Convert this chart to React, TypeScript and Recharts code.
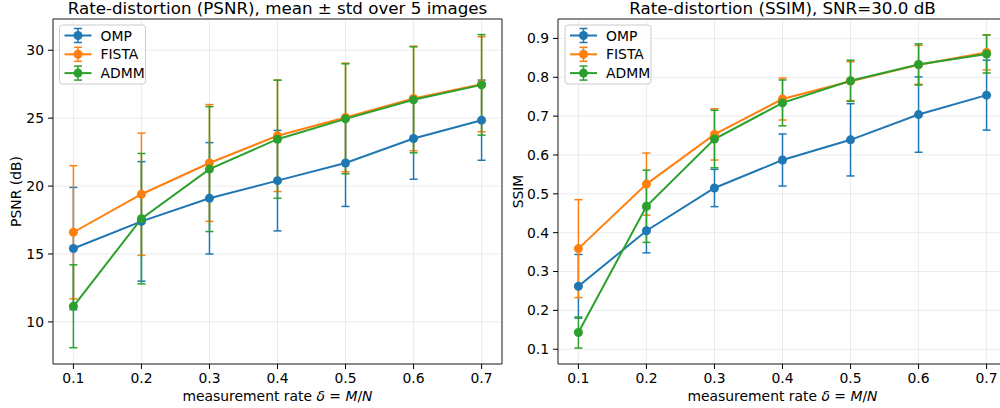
import React from 'react';
import {
  LineChart,
  Line,
  XAxis,
  YAxis,
  CartesianGrid,
  ErrorBar,
  ReferenceArea,
} from 'recharts';

const rates = [0.1, 0.2, 0.3, 0.4, 0.5, 0.6, 0.7];
const rateTicks = [0.1, 0.2, 0.3, 0.4, 0.5, 0.6, 0.7];

const psnrOmp = [15.4, 17.4, 19.1, 20.4, 21.7, 23.5, 24.85];
const psnrOmpStd = [4.5, 4.4, 4.1, 3.7, 3.2, 3.0, 2.95];
const psnrFista = [16.6, 19.4, 21.7, 23.7, 25.05, 26.45, 27.5];
const psnrFistaStd = [4.9, 4.5, 4.3, 4.1, 4.0, 3.85, 3.5];
const psnrAdmm = [11.15, 17.6, 21.25, 23.45, 24.95, 26.35, 27.45];
const psnrAdmmStd = [3.05, 4.8, 4.6, 4.35, 4.05, 3.9, 3.7];
const psnrTicks = [10, 15, 20, 25, 30];

const ssimOmp = [0.262, 0.405, 0.515, 0.587, 0.639, 0.704, 0.754];
const ssimOmpStd = [0.082, 0.057, 0.048, 0.067, 0.093, 0.097, 0.09];
const ssimFista = [0.359, 0.525, 0.653, 0.744, 0.79, 0.832, 0.864];
const ssimFistaStd = [0.126, 0.08, 0.066, 0.054, 0.05, 0.05, 0.045];
const ssimAdmm = [0.143, 0.468, 0.641, 0.734, 0.791, 0.833, 0.86];
const ssimAdmmStd = [0.04, 0.093, 0.074, 0.059, 0.053, 0.053, 0.049];
const ssimTicks = [0.1, 0.2, 0.3, 0.4, 0.5, 0.6, 0.7, 0.8, 0.9];

const methods = ['OMP', 'FISTA', 'ADMM'];
const colors = ['#1f77b4', '#ff7f0e', '#2ca02c'];

const FONT = '"DejaVu Sans", sans-serif';

const build = (a: number[], as: number[], b: number[], bs: number[], c: number[], cs: number[]) =>
  rates.map((r, i) => ({
    rate: r,
    OMP: a[i], OMPStd: as[i],
    FISTA: b[i], FISTAStd: bs[i],
    ADMM: c[i], ADMMStd: cs[i],
  }));

const psnrData = build(psnrOmp, psnrOmpStd, psnrFista, psnrFistaStd, psnrAdmm, psnrAdmmStd);
const ssimData = build(ssimOmp, ssimOmpStd, ssimFista, ssimFistaStd, ssimAdmm, ssimAdmmStd);

const tickStyle = { fontSize: 13.9, fill: '#000', fontFamily: FONT };

type PanelProps = {
  data: any[];
  yDomain: [number, number];
  yTicks: number[];
  yFmt: (v: number) => string;
};

const Panel: React.FC<PanelProps> = ({ data, yDomain, yTicks, yFmt }) => (
  <LineChart width={510} height={408} data={data} margin={{ top: 19, right: 8, bottom: 0, left: 0 }}>
    <CartesianGrid stroke="#b0b0b0" strokeOpacity={0.3} strokeWidth={0.8} />
    <XAxis
      dataKey="rate"
      type="number"
      domain={[0.07, 0.73]}
      ticks={rateTicks}
      tickFormatter={(v: number) => v.toFixed(1)}
      height={44}
      tickSize={5}
      tickMargin={4}
      tick={tickStyle}
      stroke="#000"
      axisLine={false}
      allowDataOverflow
    />
    <YAxis
      type="number"
      domain={yDomain}
      ticks={yTicks}
      tickFormatter={yFmt}
      width={53}
      tickSize={5}
      tickMargin={4}
      tick={tickStyle}
      stroke="#000"
      axisLine={false}
      allowDataOverflow
    />
    {methods.map((m, i) => (
      <Line
        key={m}
        dataKey={m}
        stroke={colors[i]}
        strokeWidth={2}
        dot={{ r: 4.5, fill: colors[i], stroke: colors[i], strokeWidth: 0 }}
        activeDot={false}
        isAnimationActive={false}
      >
        <ErrorBar
          dataKey={`${m}Std`}
          direction="y"
          width={4}
          stroke={colors[i]}
          strokeWidth={1.5}
          isAnimationActive={false}
        />
      </Line>
    ))}
    <ReferenceArea
      x1={0.07}
      x2={0.73}
      y1={yDomain[0]}
      y2={yDomain[1]}
      fill="none"
      stroke="#222"
      strokeWidth={1}
      fillOpacity={0}
    />
  </LineChart>
);

const LegendBox: React.FC<{ x: number; y: number }> = ({ x, y }) => (
  <g>
    <rect x={x} y={y} width={86} height={59} rx={3} fill="#fff" fillOpacity={0.8} stroke="#cccccc" strokeWidth={1} />
    {methods.map((m, i) => {
      const cy = y + 10.5 + i * 18.8;
      const c = colors[i];
      return (
        <g key={m}>
          <line x1={x + 5} x2={x + 32} y1={cy} y2={cy} stroke={c} strokeWidth={2} />
          <line x1={x + 18.5} x2={x + 18.5} y1={cy - 7} y2={cy + 7} stroke={c} strokeWidth={1.5} />
          <line x1={x + 14.5} x2={x + 22.5} y1={cy - 7} y2={cy - 7} stroke={c} strokeWidth={1.5} />
          <line x1={x + 14.5} x2={x + 22.5} y1={cy + 7} y2={cy + 7} stroke={c} strokeWidth={1.5} />
          <circle cx={x + 18.5} cy={cy} r={4.5} fill={c} />
          <text x={x + 41} y={cy + 5} fontSize={13.9} fontFamily={FONT} fill="#000">{m}</text>
        </g>
      );
    })}
  </g>
);

const XLabel: React.FC<{ cx: number }> = ({ cx }) => (
  <text x={cx} y={401} textAnchor="middle" fontSize={13.9} fontFamily={FONT} fill="#000">
    measurement rate <tspan fontStyle="italic">δ</tspan> = <tspan fontStyle="italic">M</tspan>/<tspan fontStyle="italic">N</tspan>
  </text>
);

const App: React.FC = () => (
  <div style={{ position: 'fixed', left: 0, top: 0, width: 1000, height: 408, overflow: 'hidden', background: '#fff' }}>
    <div style={{ position: 'absolute', left: 0, top: 0 }}>
      <Panel data={psnrData} yDomain={[6.9, 32.3]} yTicks={psnrTicks} yFmt={(v) => String(v)} />
    </div>
    <div style={{ position: 'absolute', left: 505, top: 0 }}>
      <Panel data={ssimData} yDomain={[0.062, 0.95]} yTicks={ssimTicks} yFmt={(v) => v.toFixed(1)} />
    </div>
    <svg width={1000} height={408} style={{ position: 'absolute', left: 0, top: 0, pointerEvents: 'none' }}>
      <text x={277.5} y={13.5} textAnchor="middle" fontSize={16.7} fontFamily={FONT} fill="#000">
        Rate-distortion (PSNR), mean ± std over 5 images
      </text>
      <text x={782.5} y={13.5} textAnchor="middle" fontSize={16.7} fontFamily={FONT} fill="#000">
        Rate-distortion (SSIM), SNR=30.0 dB
      </text>
      <XLabel cx={277.5} />
      <XLabel cx={782.5} />
      <text x={21} y={191.5} textAnchor="middle" fontSize={13.9} fontFamily={FONT} fill="#000" transform="rotate(-90 21 191.5)">
        PSNR (dB)
      </text>
      <text x={523} y={191.5} textAnchor="middle" fontSize={13.9} fontFamily={FONT} fill="#000" transform="rotate(-90 523 191.5)">
        SSIM
      </text>
      <LegendBox x={59.5} y={25} />
      <LegendBox x={565} y={25} />
    </svg>
  </div>
);

export default App;
